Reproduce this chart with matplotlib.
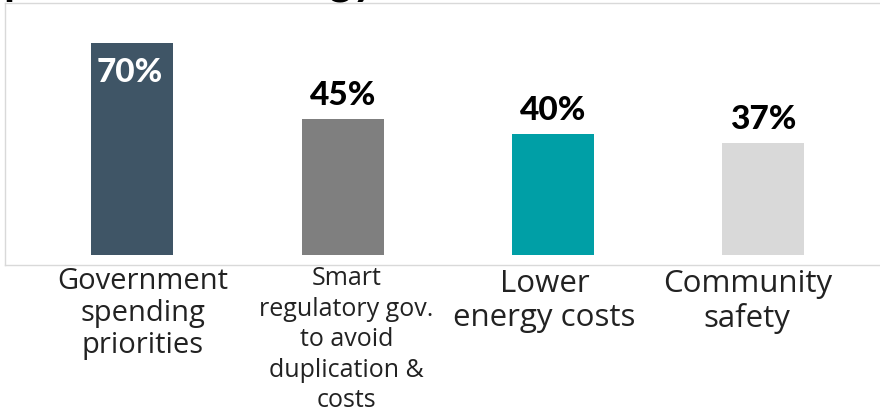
import matplotlib
matplotlib.use("Agg")
import matplotlib.pyplot as plt
import matplotlib.transforms as mtransforms

categories = ["Government\nspending\npriorities",
              "Smart\nregulatory gov.\nto avoid\nduplication &\ncosts",
              "Lower\nenergy costs",
              "Community\nsafety"]
values = [70, 45, 40, 37]
value_labels = ["70%", "45%", "40%", "37%"]
colors = ["#3F5566", "#7F7F7F", "#009FA6", "#D9D9D9"]
title = "priorities in energy"

W, H = 880, 414
fig = plt.figure(figsize=(W / 100, H / 100), dpi=100)
ax = fig.add_axes([5 / W, (H - 266) / H, 877 / W, 262 / H])

x = list(range(len(categories)))
ax.bar(x, values, width=0.39, color=colors, zorder=2)
ax.set_xlim(-0.606, 3.565)
ax.set_ylim(-3.3, 83.2)
ax.set_xticks([])
ax.set_yticks([])
for s in ax.spines.values():
    s.set_color("#D9D9D9")
    s.set_linewidth(1.0)

px = 72 / 100  # points per pixel
for i, (v, lab) in enumerate(zip(values, value_labels)):
    if i == 0:
        ax.annotate(lab, (i, v), xytext=(-3 * px, -14 * px), textcoords="offset points",
                    ha="center", va="top", color="white",
                    fontsize=24, fontweight="black", family="Lato")
    else:
        ax.annotate(lab, (i, v), xytext=(0, 15 * px), textcoords="offset points",
                    ha="center", va="baseline", color="black",
                    fontsize=24, fontweight="black", family="Lato")

trans = mtransforms.blended_transform_factory(ax.transData, ax.transAxes)
label_sizes = [21, 18, 22.5, 22.5]
label_dx = [0.048, 0.017, -0.04, -0.076]
label_dy = [-1, 0, -3, -3]
label_ls = [1.14, 1.29, 1.17, 1.17]
for i, c in enumerate(categories):
    ax.annotate(c, (i + label_dx[i], 0), xycoords=trans,
                xytext=(0, label_dy[i] * px), textcoords="offset points",
                ha="center", va="top", fontsize=label_sizes[i],
                family="Open Sans", color="#222222", linespacing=label_ls[i],
                annotation_clip=False)

fig.text(4 / W, 1 + 6 / H, title, ha="left", va="baseline", fontsize=32,
         fontweight="bold", family="Lato", color="black")

fig.savefig("out.png", dpi=100)
